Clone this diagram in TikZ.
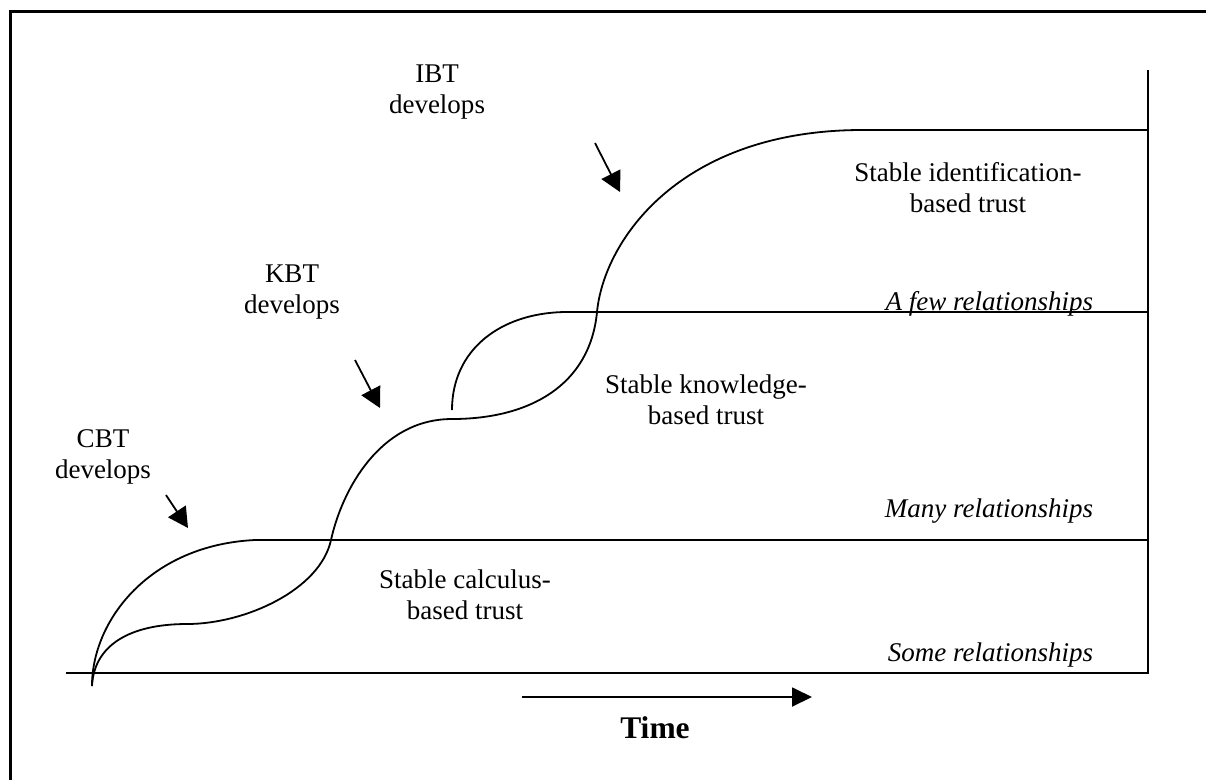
\documentclass[tikz,border=0pt]{standalone}
\usepackage{fontspec}
\setmainfont{Liberation Serif}
\usetikzlibrary{arrows.meta}
\begin{document}
\begin{tikzpicture}[x=1pt,y=-1pt,line width=1.8pt,
  lbl/.style={font=\fontsize{27}{31}\selectfont,align=center,inner sep=0pt},
  rel/.style={font=\fontsize{27}{31}\selectfont\itshape,inner sep=0pt,anchor=base east},
  devarrow/.style={-{Triangle[length=20pt,width=21pt]},line width=1.8pt},
  timearrow/.style={-{Triangle[length=20pt,width=19pt]},line width=1.8pt}]
\useasboundingbox (0,0) rectangle (1206,780);
% frame
\draw[line width=3pt] (10.5,780) -- (10.5,11.5) -- (1206,11.5);
% axes
\coordinate (o) at (66,673);
\coordinate (xe) at (1148,673);
\coordinate (yt) at (1148,70);
\draw (o) -- (xe) -- (yt);
% key points
\coordinate (s) at (92,686);
\coordinate (c1) at (255,540);
\coordinate (c1e) at (1148,540);
\coordinate (b1) at (187,624);
\coordinate (x1) at (331,540);
\coordinate (k0) at (452,419);
\coordinate (k1) at (452,410);
\coordinate (k2) at (565,312);
\coordinate (k2e) at (1148,312);
\coordinate (x2) at (597,312);
\coordinate (i2) at (860,130);
\coordinate (i2e) at (1148,130);
% CBT curve
\draw (s) .. controls (92,620) and (150,545) .. (c1) -- (c1e);
% S curve to KBT
\draw (s) .. controls (94,645) and (130,624) .. (b1)
      .. controls (245,624) and (320,590) .. (x1)
      .. controls (342,490) and (380,419) .. (k0);
% KBT curve
\draw (k1) .. controls (452,350) and (500,313) .. (k2) -- (k2e);
% S curve to IBT
\draw (k0) .. controls (530,419) and (590,385) .. (x2)
      .. controls (604,240) and (680,131) .. (i2) -- (i2e);
% labels
\node[lbl] (cbt) at (103,457) {CBT\\develops};
\node[lbl] (kbt) at (292,292) {KBT\\develops};
\node[lbl] (ibt) at (437,92) {IBT\\develops};
\node[lbl] (sibt) at (968,188) {Stable identification-\\based trust};
\node[lbl] (skbt) at (706,400) {Stable knowledge-\\based trust};
\node[lbl] (scbt) at (465,595) {Stable calculus-\\based trust};
\node[rel] (afew) at (1094,310) {A few relationships};
\node[rel] (many) at (1094,517) {Many relationships};
\node[rel] (some) at (1094,661) {Some relationships};
\node[font=\fontsize{31.5}{36}\selectfont\bfseries,inner sep=0pt] (time) at (655,728) {Time};
% develop arrows
\coordinate (ca) at (166,495);
\coordinate (cb) at (188,528);
\coordinate (ka) at (355,360);
\coordinate (kb) at (380,408);
\coordinate (ia) at (595,143);
\coordinate (ib) at (620,192);
\draw[devarrow] (ca) -- (cb);
\draw[devarrow] (ka) -- (kb);
\draw[devarrow] (ia) -- (ib);
% time arrow
\coordinate (ta) at (522,697);
\coordinate (tb) at (812,697);
\draw[timearrow] (ta) -- (tb);
\end{tikzpicture}
\end{document}
